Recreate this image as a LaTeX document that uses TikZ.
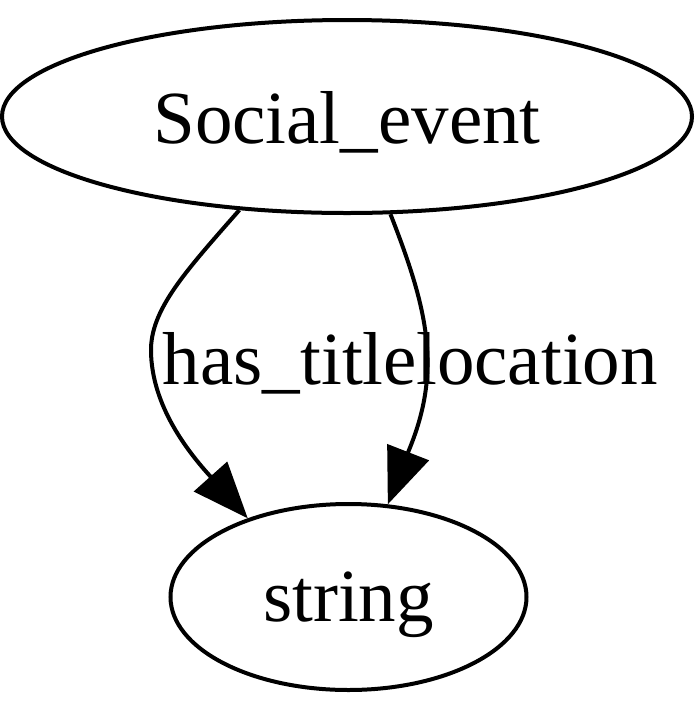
\documentclass[tikz,border=0pt]{standalone}
\usepackage{fontspec}
\setmainfont{Liberation Serif}
\usetikzlibrary{shapes.geometric,arrows.meta}
\tikzset{
  gvnode/.style={ellipse, draw, line width=4pt, inner sep=0pt, font=\fontsize{75}{82}\selectfont},
  gvedge/.style={line width=4pt, -{Triangle[length=56pt,width=44pt]}},
  gvlabel/.style={anchor=base, inner sep=0pt, font=\fontsize{75}{82}\selectfont}
}
\begin{document}
\begin{tikzpicture}[x=1pt,y=-1pt]
\useasboundingbox (0,0) rectangle (700,716);
\node[gvnode, minimum width=690pt, minimum height=193pt] (se) at (347,116.5) {};
\node[gvlabel] (setext) at (347,143) {Social\_event};
\node[gvnode, minimum width=356pt, minimum height=186pt] (str) at (348.5,597) {};
\node[gvlabel] (strtext) at (348.5,621) {string};
\coordinate (hb) at (210,476);
\coordinate (lb) at (409,450);
\draw[gvedge] (se.221) .. controls (185,272) and (150,310) .. (151,352)
  .. controls (152,400) and (180,443) .. (hb) -- (str.142);
\draw[gvedge] (se.294) .. controls (428,310) and (442,370) .. (lb) -- (str.67);
\node[gvlabel] (l1) at (290,384) {has\_title};
\node[gvlabel] (l2) at (537,384) {location};
\end{tikzpicture}
\end{document}
